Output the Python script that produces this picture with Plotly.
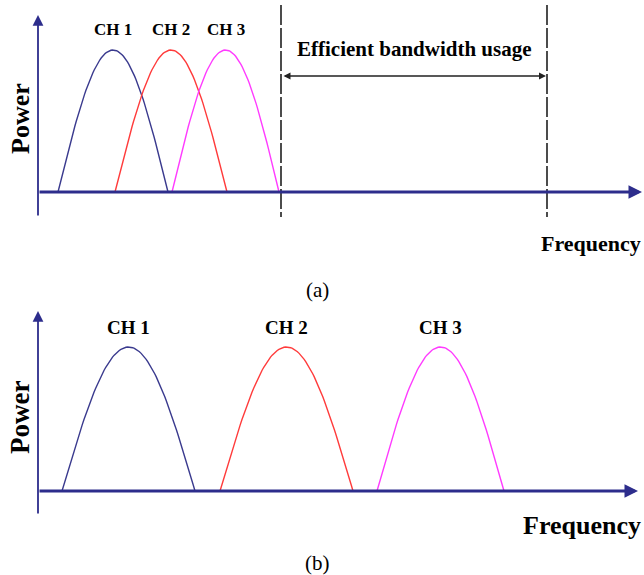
import numpy as np
import plotly.graph_objects as go

# ---------------- data ----------------
channels = ["CH 1", "CH 2", "CH 3"]
# panel (a): overlapping channels (frequency units)
a_start = [2.0, 7.7, 13.4]
a_end = [13.0, 18.9, 24.1]
a_peak = [1.0, 1.0, 1.0]
a_band_edges = [24.3, 50.9]          # efficient bandwidth usage region
# panel (b): separated channels
b_start = [2.4, 18.2, 33.9]
b_end = [15.7, 31.5, 46.6]
b_peak = [1.0, 1.0, 1.0]

colors = ["#3a3a8e", "#ff3b3b", "#ff3bff"]
AXC = "#2d2d8c"
FONT = "Liberation Serif, Times New Roman, Times, serif"

W, H = 644, 575
fig = go.Figure()

def curve(s, e, p, n=80):
    x = np.linspace(s, e, n)
    y = p * np.sin(np.pi * (x - s) / (e - s))
    return x, y

for i, name in enumerate(channels):
    x, y = curve(a_start[i], a_end[i], a_peak[i])
    fig.add_trace(go.Scatter(x=x, y=y, mode="lines", xaxis="x", yaxis="y",
                             line=dict(color=colors[i], width=1.4), hoverinfo="skip"))
    x, y = curve(b_start[i], b_end[i], b_peak[i])
    fig.add_trace(go.Scatter(x=x, y=y, mode="lines", xaxis="x2", yaxis="y2",
                             line=dict(color=colors[i], width=1.4), hoverinfo="skip"))

# pixel geometry -> axis ranges
ox = 38.0           # y-axis pixel x
ux = 10.0           # px per frequency unit
xr = [-ox / ux, (W - ox) / ux]
split = 290.0
# panel a
base_a, peak_a = 192.0, 50.0
ua = base_a - peak_a
ya_range = [-(split - base_a) / ua, base_a / ua]
# panel b
base_b, peak_b = 491.0, 347.0
ub = base_b - peak_b
yb_range = [-(H - base_b) / ub, (base_b - split) / ub]

ax_common = dict(visible=False, showgrid=False, zeroline=False, fixedrange=True)
fig.update_layout(
    width=W, height=H, margin=dict(l=0, r=0, t=0, b=0),
    paper_bgcolor="white", plot_bgcolor="white", showlegend=False,
    xaxis=dict(domain=[0, 1], range=xr, anchor="y", **ax_common),
    yaxis=dict(domain=[1 - split / H, 1], range=ya_range, anchor="x", **ax_common),
    xaxis2=dict(domain=[0, 1], range=xr, anchor="y2", **ax_common),
    yaxis2=dict(domain=[0, 1 - split / H], range=yb_range, anchor="x2", **ax_common),
)

ann = []
def arrow(xref, yref, x, y, ax, ay, width, color, side="end", head=2, size=1.0):
    ann.append(dict(xref=xref, yref=yref, axref=xref, ayref=yref, x=x, y=y, ax=ax, ay=ay,
                    text="", showarrow=True, arrowhead=head, arrowsize=size,
                    arrowwidth=width, arrowcolor=color, arrowside=side,
                    startarrowhead=head, startarrowsize=size))

# panel a axes
arrow("x", "y", 0, (base_a - 15) / ua, 0, -(217 - base_a) / ua, 1.8, AXC, size=1.2)
arrow("x", "y", (642 - ox) / ux, 0, 0, 0, 3, AXC, size=0.9)
# panel b axes
arrow("x2", "y2", 0, (base_b - 311) / ub, 0, -(515 - base_b) / ub, 1.8, AXC, size=1.2)
arrow("x2", "y2", (638 - ox) / ux, 0, 0, 0, 3, AXC, size=0.9)

# dashed region lines (panel a)
for xe in a_band_edges:
    fig.add_shape(type="line", xref="x", yref="y", x0=xe, x1=xe,
                  y0=(base_a - 5) / ua, y1=-(217 - base_a) / ua,
                  line=dict(color="black", width=1.4, dash="20px,3px"))
# double-headed arrow
arrow("x", "y", a_band_edges[1] - 0.1, (base_a - 76) / ua, a_band_edges[0] + 0.1, (base_a - 76) / ua,
      1.4, "#222222", side="end+start", head=2, size=1.0)

def text(xref, yref, x, y, t, size, bold=True, angle=0, xanchor="center"):
    ann.append(dict(xref=xref, yref=yref, x=x, y=y, text=t,
                    showarrow=False, textangle=angle, xanchor=xanchor, yanchor="middle",
                    font=dict(family=FONT, size=size, color="black",
                              weight="bold" if bold else "normal")))

# labels panel a
for i, name in enumerate(channels):
    xc = (a_start[i] + a_end[i]) / 2
    text("x", "y", xc, (base_a - 29) / ua, name, 17)
text("x", "y", (a_band_edges[0] + a_band_edges[1]) / 2, (base_a - 49) / ua,
     "Efficient bandwidth usage", 21)
text("x", "y", (20 - ox) / ux, (base_a - 119) / ua, "Power", 26, angle=-90)
text("x", "y", (591 - ox) / ux, (base_a - 243) / ua, "Frequency", 22)
text("x", "y", (317 - ox) / ux, (base_a - 290) / ua, "(a)", 21, bold=False)

# labels panel b
for i, name in enumerate(channels):
    xc = (b_start[i] + b_end[i]) / 2
    text("x2", "y2", xc, (base_b - 327) / ub, name, 19)
text("x2", "y2", (20 - ox) / ux, (base_b - 418) / ub, "Power", 27, angle=-90)
text("x2", "y2", (582 - ox) / ux, (base_b - 525) / ub, "Frequency", 26)
text("x2", "y2", (317 - ox) / ux, (base_b - 563) / ub, "(b)", 21, bold=False)

fig.update_layout(annotations=ann)
fig.write_html("out.html")
